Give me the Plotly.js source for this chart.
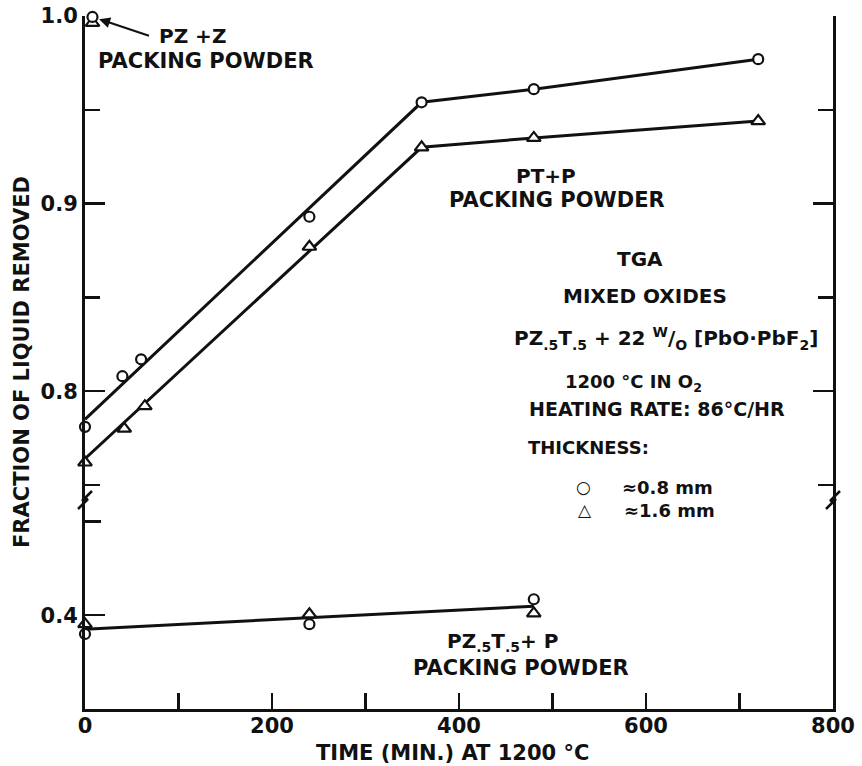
<!DOCTYPE html>
<html>
<head>
<meta charset="utf-8">
<script src="https://cdn.plot.ly/plotly-3.0.1.min.js"></script>
<style>
  html, body { margin: 0; padding: 0; background: #fff; }
  #chart { width: 862px; height: 766px; }
</style>
</head>
<body>
<div id="chart"></div>
<script>
// TGA of mixed oxides PZ.5T.5 + 22 w/o [PbO·PbF2] held at 1200 °C in O2.
// Time in minutes, y = fraction of liquid removed.

// PT + P packing powder, ~0.8 mm thick samples (circles)
const timeThin = [0, 40, 60, 240, 360, 480, 720];
const fracThin = [0.781, 0.808, 0.817, 0.893, 0.954, 0.961, 0.977];
// PT + P packing powder, ~1.6 mm thick samples (triangles)
const timeThick = [0, 42, 64, 240, 360, 480, 720];
const fracThick = [0.762, 0.780, 0.792, 0.877, 0.930, 0.935, 0.944];
// drawn curves through the PT + P data
const fitTime = [0, 360, 480, 720];
const fitThin = [0.785, 0.954, 0.961, 0.977];
const fitThick = [0.764, 0.930, 0.935, 0.944];

// PZ + Z packing powder
const pzzTime = [8];
const pzzThin = [0.9995];
const pzzThick = [0.9963];

// PZ.5T.5 + P packing powder
const lowTime = [0, 240, 480];
const lowThin = [0.390, 0.3952, 0.4085];
const lowThick = [0.3952, 0.4005, 0.401];
const lowFitTime = [0, 480];
const lowFit = [0.3925, 0.4048];

// axis ticks
const xTicks = [0, 200, 400, 600, 800];
const xMinor = [100, 300, 500, 700];
const upperTicks = [0.8, 0.9, 1.0];
const upperTickText = ['0.8', '0.9', '1.0'];
const upperMinor = [0.75, 0.85, 0.95];
const lowerTicks = [0.4];
const lowerTickText = ['0.4'];
const lowerMinor = [0.45];

// plot box in pixels and the axis break
const W = 862, H = 766;
const L = 85, R = 833, T = 16, B = 709;
const breakY = 500;
const brk = (B - breakY) / (B - T);
const px = x => (x - L) / (R - L);
const py = y => (B - y) / (B - T);

const FONT = 'DejaVu Sans, Liberation Sans, sans-serif';
const INK = '#111';

const lineStyle = { color: INK, width: 3 };
const circ = { symbol: 'circle', size: 10, color: '#fff', line: { color: INK, width: 2.2 } };
const tri = { symbol: 'triangle-up', size: 12, color: '#fff', line: { color: INK, width: 2.2 } };

const traces = [
  { x: fitTime, y: fitThin, xaxis: 'x', yaxis: 'y', mode: 'lines', line: lineStyle, hoverinfo: 'skip' },
  { x: fitTime, y: fitThick, xaxis: 'x', yaxis: 'y', mode: 'lines', line: lineStyle, hoverinfo: 'skip' },
  { x: lowFitTime, y: lowFit, xaxis: 'x', yaxis: 'y2', mode: 'lines', line: lineStyle, hoverinfo: 'skip' },
  { x: timeThin, y: fracThin, xaxis: 'x', yaxis: 'y', mode: 'markers', marker: circ, cliponaxis: false },
  { x: timeThick, y: fracThick, xaxis: 'x', yaxis: 'y', mode: 'markers', marker: tri, cliponaxis: false },
  { x: pzzTime, y: pzzThick, xaxis: 'x', yaxis: 'y', mode: 'markers', marker: tri, cliponaxis: false },
  { x: pzzTime, y: pzzThin, xaxis: 'x', yaxis: 'y', mode: 'markers', marker: circ, cliponaxis: false },
  { x: lowTime, y: lowThin, xaxis: 'x', yaxis: 'y2', mode: 'markers', marker: circ, cliponaxis: false },
  { x: lowTime, y: lowThick, xaxis: 'x', yaxis: 'y2', mode: 'markers', marker: tri, cliponaxis: false }
];

const tickFont = { family: FONT, size: 21, color: INK, weight: 'bold' };
const baseAxis = {
  showgrid: false, zeroline: false, showline: true, linecolor: INK, linewidth: 3,
  ticks: 'inside', tickcolor: INK, tickwidth: 2.5, tickfont: tickFont, fixedrange: true
};

function note(text, x, y, size, extra) {
  return Object.assign({
    text: text, xref: 'paper', yref: 'paper', x: px(x), y: py(y),
    xanchor: 'center', yanchor: 'middle', showarrow: false,
    font: { family: FONT, size: size, color: INK, weight: 'bold' }
  }, extra || {});
}

const annotations = [
  note('PZ +Z', 192, 36, 20),
  note('PACKING POWDER', 206, 61, 21),
  note('PT+P', 546, 176, 20),
  note('PACKING POWDER', 557, 200, 21),
  note('TGA', 640, 259, 20),
  note('MIXED OXIDES', 645, 296, 20),
  note('PZ<sub>.5</sub>T<sub>.5</sub> + 22 <sup>W</sup>/<sub>O</sub> [PbO·PbF<sub>2</sub>]', 666, 338, 20),
  note('1200 °C IN O<sub>2</sub>', 633, 383, 18),
  note('HEATING RATE: 86°C/HR', 657, 409, 19),
  note('THICKNESS:', 588, 447, 18),
  note('○', 583, 487, 17),
  note('≈0.8 mm', 620, 487, 18, { xanchor: 'left' }),
  note('△', 585, 510, 17),
  note('≈1.6 mm', 622, 510, 18, { xanchor: 'left' }),
  note('PZ<sub>.5</sub>T<sub>.5</sub>+ P', 502, 642, 20),
  note('PACKING POWDER', 521, 668, 21),
  note('FRACTION OF LIQUID REMOVED', 22, 362, 21, { textangle: -90 }),
  note('TIME (MIN.) AT 1200 °C', 452, 753, 21),
  {
    text: ' ', xref: 'x', yref: 'y', x: pzzTime[0], y: pzzThin[0],
    ax: 60, ay: 20, showarrow: true, arrowhead: 2, arrowsize: 1.1,
    arrowwidth: 2, arrowcolor: INK, standoff: 7
  }
];

function zigzag(xa) {
  return {
    type: 'path', xref: 'paper', yref: 'paper',
    xsizemode: 'pixel', ysizemode: 'pixel', xanchor: xa, yanchor: brk,
    path: 'M -7,-9 L 3,1 L -3,-1 L 7,9',
    line: { color: INK, width: 2.5 }
  };
}

const layout = {
  width: W, height: H,
  margin: { l: L, r: W - R, t: T, b: H - B, pad: 0 },
  paper_bgcolor: '#fff', plot_bgcolor: '#fff',
  showlegend: false,
  font: { family: FONT, color: INK },
  xaxis: Object.assign({}, baseAxis, {
    domain: [0, 1], range: [0, 800], anchor: 'y2',
    tickvals: xTicks, ticklen: 16, ticklabelstandoff: -4,
    minor: { tickvals: xMinor, ticks: 'inside', ticklen: 16, tickwidth: 2.5, tickcolor: INK }
  }),
  xaxis2: Object.assign({}, baseAxis, {
    overlaying: 'x', anchor: 'y', side: 'top', range: [0, 800],
    tickvals: [200, 400, 600], ticklen: 17, showticklabels: false,
    minor: { tickvals: xMinor, ticks: 'inside', ticklen: 5, tickwidth: 2.5, tickcolor: INK }
  }),
  yaxis: Object.assign({}, baseAxis, {
    domain: [brk, 1], range: [0.742, 1.0], anchor: 'x', mirror: 'ticks',
    tickvals: upperTicks, ticktext: upperTickText, ticklen: 20,
    minor: { tickvals: upperMinor, ticks: 'inside', ticklen: 15, tickwidth: 2.5, tickcolor: INK }
  }),
  yaxis2: Object.assign({}, baseAxis, {
    domain: [0, brk], range: [0.35, 0.35 + (B - breakY) / 1876], anchor: 'x', mirror: true,
    tickvals: lowerTicks, ticktext: lowerTickText, ticklen: 20,
    minor: { tickvals: lowerMinor, ticks: 'inside', ticklen: 16, tickwidth: 2.5, tickcolor: INK }
  }),
  yaxis3: Object.assign({}, baseAxis, {
    overlaying: 'y2', anchor: 'x', side: 'right', showline: false,
    range: [0.35, 0.35 + (B - breakY) / 1876],
    tickvals: lowerMinor, ticklen: 18, showticklabels: false
  }),
  annotations: annotations,
  shapes: [zigzag(0), zigzag(1)]
};

Plotly.newPlot('chart', traces, layout, { staticPlot: true, displayModeBar: false });
</script>
</body>
</html>
